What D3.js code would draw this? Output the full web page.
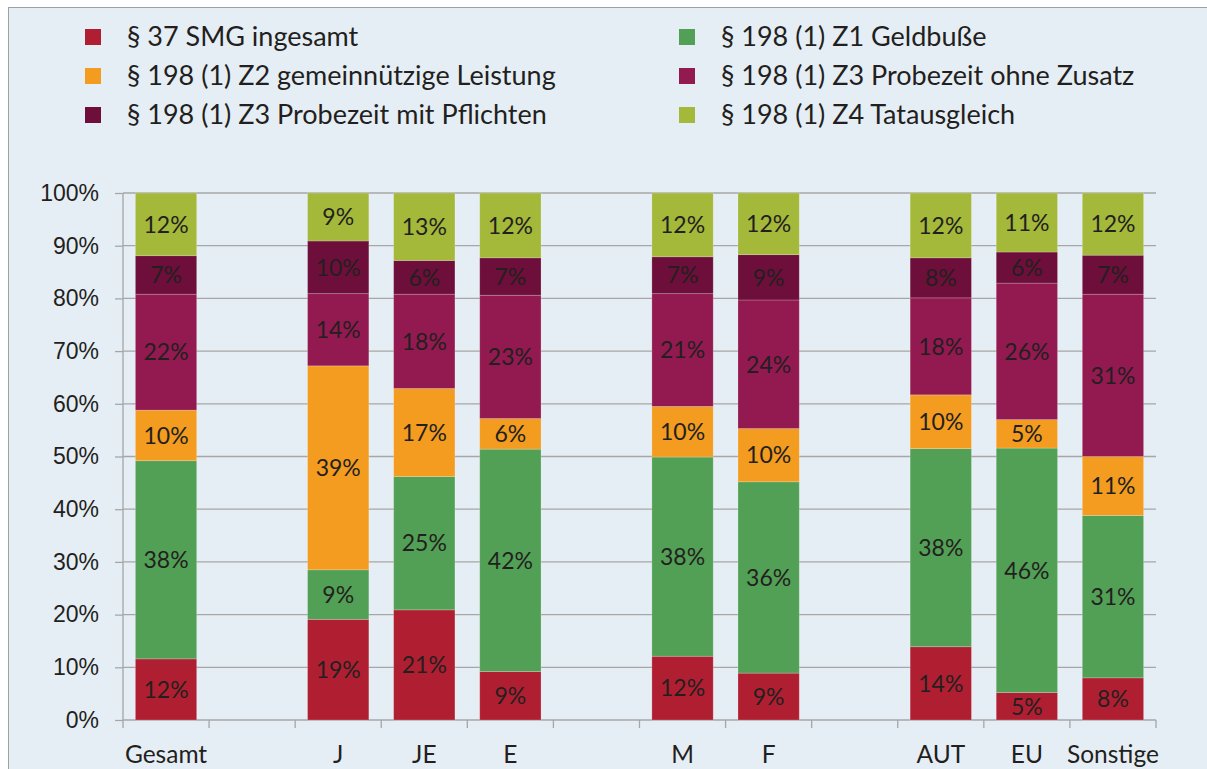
<!DOCTYPE html>
<html>
<head>
<meta charset="utf-8">
<script src="https://cdn.jsdelivr.net/npm/d3@7"></script>
<style>
  body { margin: 0; background: #fff; }
  svg { display: block; font-family: Lato, "Open Sans", sans-serif; }
  .axis path, .axis line { stroke: #a6a6a6; stroke-width: 1.3; }
  .axis text { fill: #231f20; font-size: 23px; }
</style>
</head>
<body>
<div id="chart"></div>
<script>
// slots on the x axis, "_n" are empty gaps
const slots = ["Gesamt", "_1", "J", "JE", "E", "_2", "M", "F", "_3", "AUT", "EU", "Sonstige"];
const categories = ["Gesamt", "J", "JE", "E", "M", "F", "AUT", "EU", "Sonstige"];

const seriesNames = [
  "§ 37 SMG ingesamt",
  "§ 198 (1) Z1 Geldbuße",
  "§ 198 (1) Z2 gemeinnützige Leistung",
  "§ 198 (1) Z3 Probezeit ohne Zusatz",
  "§ 198 (1) Z3 Probezeit mit Pflichten",
  "§ 198 (1) Z4 Tatausgleich"
];
const seriesColors = ["#b01f31", "#52a055", "#f39c1f", "#921a50", "#6d0f3a", "#a4b83a"];

const smg          = [11.6, 19.1, 20.9,  9.2, 12.1,  8.9, 13.9,  5.2,  8.0];
const geldbusse    = [37.6,  9.4, 25.3, 42.2, 37.8, 36.3, 37.6, 46.4, 30.8];
const leistung     = [ 9.6, 38.7, 16.7,  5.8,  9.6, 10.1, 10.2,  5.4, 11.2];
const ohneZusatz   = [22.0, 13.7, 17.9, 23.4, 21.4, 24.4, 18.4, 25.9, 30.8];
const mitPflichten = [ 7.3, 10.0,  6.4,  7.1,  7.0,  8.6,  7.6,  5.9,  7.4];
const tatausgleich = [11.9,  9.1, 12.8, 12.3, 12.1, 11.7, 12.3, 11.2, 11.8];

const yTicks = [0, 0.1, 0.2, 0.3, 0.4, 0.5, 0.6, 0.7, 0.8, 0.9, 1];

const seriesValues = [smg, geldbusse, leistung, ohneZusatz, mitPflichten, tatausgleich];
const keys = seriesNames.map((n, i) => "s" + i);
const rows = categories.map((c, ci) => {
  let r = { cat: c };
  keys.forEach((k, si) => { r[k] = seriesValues[si][ci]; });
  return r;
});

const W = 1207, H = 769;
const m = { left: 123, right: 51, top: 193, bottom: 49 };
const width = W - m.left - m.right,
      height = H - m.top - m.bottom;

let svg = d3.select("#chart").append("svg")
  .attr("width", W)
  .attr("height", H);

// frame
svg.append("rect")
  .attr("x", 8.5).attr("y", 7.5)
  .attr("width", W).attr("height", H)
  .attr("fill", "#e6eef5")
  .attr("stroke", "#a0a0a0")
  .attr("stroke-width", 1);

// legend
let legend = svg.append("g");
seriesNames.forEach((name, i) => {
  let col = i % 2, row = Math.floor(i / 2);
  let g = legend.append("g")
    .attr("transform", "translate(" + (col ? 679 : 85) + "," + (37 + row * 39) + ")");
  g.append("rect")
    .attr("x", 0).attr("y", -8)
    .attr("width", 16).attr("height", 16)
    .attr("fill", seriesColors[i]);
  g.append("text")
    .attr("x", 42).attr("y", 9)
    .attr("font-size", 27)
    .attr("fill", "#231f20")
    .text(name);
});

let vis = svg.append("g")
  .attr("transform", "translate(" + m.left + "," + m.top + ")");

let x = d3.scaleBand().domain(slots).range([0, width]).paddingInner(0.288).paddingOuter(0.144);
let y = d3.scaleLinear().domain([0, 1]).range([height, 0]);
let color = d3.scaleOrdinal().domain(keys).range(seriesColors);

// gridlines
vis.append("g")
  .selectAll("line")
  .data(yTicks.slice(1))
  .join("line")
  .attr("x1", 0).attr("x2", width)
  .attr("y1", d => y(d)).attr("y2", d => y(d))
  .attr("stroke", "#a6a6a6")
  .attr("stroke-width", 1.3);

// y axis
vis.append("g")
  .attr("class", "axis")
  .call(d3.axisLeft(y).tickValues(yTicks).tickSize(8).tickPadding(16).tickFormat(d3.format(".0%")))
  .call(g => g.select(".domain").attr("d", "M0," + height + "V0"));

// x axis with ticks at slot boundaries
let step = x.step();
let xAxis = vis.append("g")
  .attr("class", "axis")
  .attr("transform", "translate(0," + height + ")");
xAxis.append("line").attr("x1", 0).attr("x2", width);
xAxis.selectAll(".bt")
  .data(d3.range(slots.length + 1))
  .join("line")
  .attr("class", "bt")
  .attr("x1", i => i * step).attr("x2", i => i * step)
  .attr("y1", 0).attr("y2", 8);
xAxis.selectAll("text")
  .data(categories)
  .join("text")
  .attr("x", d => x(d) + x.bandwidth() / 2)
  .attr("y", 43)
  .attr("text-anchor", "middle")
  .style("font-size", "24.5px")
  .text(d => d);

// bars
let stacked = d3.stack().keys(keys).offset(d3.stackOffsetExpand)(rows);

let layers = vis.selectAll(".layer")
  .data(stacked)
  .join("g")
  .attr("class", "layer")
  .attr("fill", d => color(d.key));

layers.selectAll("rect")
  .data(d => d)
  .join("rect")
  .attr("x", d => x(d.data.cat))
  .attr("width", x.bandwidth())
  .attr("y", d => y(d[1]))
  .attr("height", d => y(d[0]) - y(d[1]))
  .attr("stroke", "rgba(255,255,255,0.25)")
  .attr("stroke-width", 0.8);

layers.selectAll("text")
  .data(d => d.map(p => ({ p: p, key: d.key })))
  .join("text")
  .attr("x", d => x(d.p.data.cat) + x.bandwidth() / 2)
  .attr("y", d => (y(d.p[0]) + y(d.p[1])) / 2)
  .attr("dy", "0.36em")
  .attr("text-anchor", "middle")
  .attr("font-size", 23)
  .attr("fill", "#231f20")
  .text(d => Math.round(d.p.data[d.key]) + "%");
</script>
</body>
</html>
